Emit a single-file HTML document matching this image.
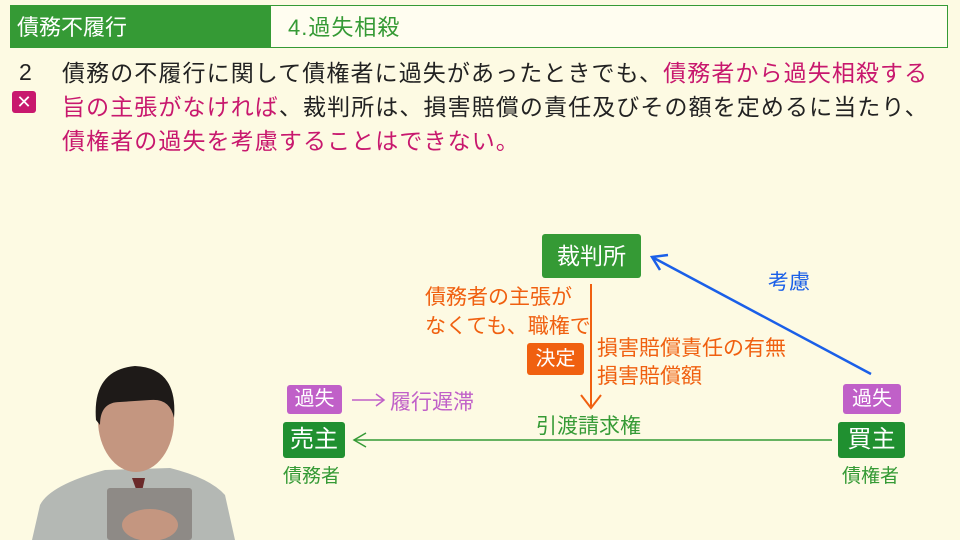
<!DOCTYPE html>
<html><head><meta charset="utf-8"><style>
body{margin:0;width:960px;height:540px;background:#fdfae3;position:relative;overflow:hidden;font-family:"Liberation Sans","Noto Sans CJK JP",sans-serif}
.a{position:absolute;white-space:nowrap}
.box{position:absolute;color:#fff;text-align:center;border-radius:3px}
</style></head><body>
<div class="a" style="left:10px;top:5px;width:260px;height:43px;background:#359a35"></div>
<div class="a" style="left:270px;top:5px;width:676px;height:41px;border:1px solid #359a35;background:#fffdf0"></div>
<div class="a" style="left:17px;top:10px;font-size:22px;color:#fff">債務不履行</div>
<div class="a" style="left:288px;top:10px;font-size:22px;color:#359a35;letter-spacing:1px">4.過失相殺</div>
<div class="a" style="left:19px;top:59px;font-size:23px;color:#222">2</div>
<div class="box" style="left:12px;top:91px;width:24px;height:22px;background:#c8186e;font-size:18px;line-height:22px">✕</div>
<div class="a" style="left:62px;top:56px;font-size:23px;line-height:34px;letter-spacing:1.1px;color:#222">債務の不履行に関して債権者に過失があったときでも、<span style="color:#c8186e">債務者から過失相殺する</span><br><span style="color:#c8186e">旨の主張がなければ</span>、裁判所は、損害賠償の責任及びその額を定めるに当たり、<br><span style="color:#c8186e">債権者の過失を考慮することはできない。</span></div>

<svg class="a" style="left:0;top:0" width="960" height="540">
<line x1="591" y1="284" x2="591" y2="406" stroke="#f06010" stroke-width="2"/>
<polyline points="581,395 591,408 601,395" fill="none" stroke="#f06010" stroke-width="2"/>
<line x1="354" y1="440" x2="832" y2="440" stroke="#359a35" stroke-width="1.5"/>
<polyline points="366,433 354,440 366,447" fill="none" stroke="#359a35" stroke-width="1.5"/>
<line x1="871" y1="374" x2="652" y2="257" stroke="#1a5fe8" stroke-width="2.5"/>
<polyline points="668,255 652,257 660,270" fill="none" stroke="#1a5fe8" stroke-width="2.5"/>
<line x1="352" y1="400" x2="384" y2="400" stroke="#c060c8" stroke-width="1.5"/>
<polyline points="376,394 384,400 376,406" fill="none" stroke="#c060c8" stroke-width="1.5"/>
</svg>

<div class="box" style="left:542px;top:234px;width:99px;height:44px;background:#359a35;font-size:23px;line-height:44px">裁判所</div>
<div class="a" style="left:425px;top:283px;font-size:21px;line-height:29px;color:#f06010">債務者の主張が<br>なくても、職権で</div>
<div class="box" style="left:527px;top:343px;width:57px;height:32px;background:#f06010;font-size:20px;line-height:32px">決定</div>
<div class="a" style="left:597px;top:335px;font-size:21px;line-height:28px;color:#f06010">損害賠償責任の有無<br>損害賠償額</div>
<div class="a" style="left:536px;top:410px;font-size:21px;color:#359a35">引渡請求権</div>
<div class="a" style="left:768px;top:266px;font-size:21px;color:#1a5fe8">考慮</div>
<div class="box" style="left:287px;top:385px;width:55px;height:29px;background:#c060c8;font-size:20px;line-height:29px">過失</div>
<div class="a" style="left:390px;top:386px;font-size:21px;color:#c060c8">履行遅滞</div>
<div class="box" style="left:283px;top:422px;width:62px;height:36px;background:#209030;font-size:24px;line-height:36px">売主</div>
<div class="a" style="left:283px;top:461px;font-size:19px;color:#359a35">債務者</div>
<div class="box" style="left:843px;top:384px;width:58px;height:30px;background:#c060c8;font-size:20px;line-height:30px">過失</div>
<div class="box" style="left:838px;top:422px;width:67px;height:36px;background:#209030;font-size:24px;line-height:36px">買主</div>
<div class="a" style="left:842px;top:461px;font-size:19px;color:#359a35">債権者</div>

<svg class="a" style="left:0;top:360px" width="260" height="180">
<path d="M32 180 L40 145 Q50 125 105 110 L170 108 Q210 118 225 135 L235 180 Z" fill="#b4b8b4"/>
<path d="M132 118 L145 118 L140 140 Z" fill="#6a2a2a"/>
<ellipse cx="136" cy="60" rx="38" ry="52" fill="#c49680"/>
<path d="M96 60 Q92 10 135 6 Q178 8 174 58 Q170 38 150 40 L120 42 Q100 42 100 65 Z" fill="#1e1a18"/>
<rect x="107" y="128" width="85" height="52" rx="3" fill="#8e8a86"/>
<ellipse cx="150" cy="165" rx="28" ry="16" fill="#c49680"/>
</svg>
</body></html>
